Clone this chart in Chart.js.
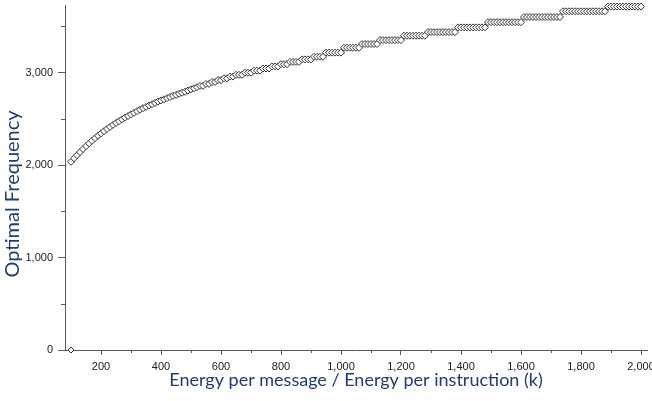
<!DOCTYPE html>
<html>
<head>
<meta charset="utf-8">
<title>Optimal Frequency</title>
<script src="https://cdn.jsdelivr.net/npm/chart.js@4.4.1/dist/chart.umd.min.js"></script>
<style>
  html, body { margin: 0; padding: 0; background: #fff; }
  canvas { display: block; }
</style>
</head>
<body>
<canvas id="chart" width="652" height="401"></canvas>
<script>
// energy ratio k (message / instruction)
const ratioK = [
  100, 110, 120, 130, 140, 150, 160, 170, 180, 190,
  200, 210, 220, 230, 240, 250, 260, 270, 280, 290,
  300, 310, 320, 330, 340, 350, 360, 370, 380, 390,
  400, 410, 420, 430, 440, 450, 460, 470, 480, 490,
  500, 510, 520, 530, 540, 550, 560, 570, 580, 590,
  600, 610, 620, 630, 640, 650, 660, 670, 680, 690,
  700, 710, 720, 730, 740, 750, 760, 770, 780, 790,
  800, 810, 820, 830, 840, 850, 860, 870, 880, 890,
  900, 910, 920, 930, 940, 950, 960, 970, 980, 990,
  1000, 1010, 1020, 1030, 1040, 1050, 1060, 1070, 1080, 1090,
  1100, 1110, 1120, 1130, 1140, 1150, 1160, 1170, 1180, 1190,
  1200, 1210, 1220, 1230, 1240, 1250, 1260, 1270, 1280, 1290,
  1300, 1310, 1320, 1330, 1340, 1350, 1360, 1370, 1380, 1390,
  1400, 1410, 1420, 1430, 1440, 1450, 1460, 1470, 1480, 1490,
  1500, 1510, 1520, 1530, 1540, 1550, 1560, 1570, 1580, 1590,
  1600, 1610, 1620, 1630, 1640, 1650, 1660, 1670, 1680, 1690,
  1700, 1710, 1720, 1730, 1740, 1750, 1760, 1770, 1780, 1790,
  1800, 1810, 1820, 1830, 1840, 1850, 1860, 1870, 1880, 1890,
  1900, 1910, 1920, 1930, 1940, 1950, 1960, 1970, 1980, 1990,
  2000
];

// optimal frequency for each k
const optimalFreq = [
  2035, 2072, 2106, 2140, 2172, 2204, 2234, 2262, 2290, 2316,
  2342, 2366, 2390, 2412, 2434, 2455, 2474, 2494, 2512, 2530,
  2548, 2565, 2582, 2598, 2614, 2628, 2643, 2657, 2671, 2685,
  2698, 2710, 2723, 2735, 2747, 2759, 2770, 2781, 2792, 2805,
  2818, 2830, 2842, 2856, 2856, 2877, 2877, 2898, 2898, 2918,
  2918, 2937, 2937, 2956, 2956, 2975, 2975, 2975, 2998, 2998,
  2998, 3020, 3020, 3020, 3043, 3043, 3043, 3066, 3066, 3066,
  3090, 3090, 3090, 3115, 3115, 3115, 3115, 3142, 3142, 3142,
  3142, 3170, 3170, 3170, 3170, 3215, 3215, 3215, 3215, 3215,
  3215, 3268, 3268, 3268, 3268, 3268, 3268, 3308, 3308, 3308,
  3308, 3308, 3308, 3350, 3350, 3350, 3350, 3350, 3350, 3350,
  3350, 3398, 3398, 3398, 3398, 3398, 3398, 3398, 3398, 3437,
  3437, 3437, 3437, 3437, 3437, 3437, 3437, 3437, 3437, 3488,
  3488, 3488, 3488, 3488, 3488, 3488, 3488, 3488, 3488, 3544,
  3544, 3544, 3544, 3544, 3544, 3544, 3544, 3544, 3544, 3544,
  3544, 3600, 3600, 3600, 3600, 3600, 3600, 3600, 3600, 3600,
  3600, 3600, 3600, 3600, 3662, 3662, 3662, 3662, 3662, 3662,
  3662, 3662, 3662, 3662, 3662, 3662, 3662, 3662, 3662, 3713,
  3713, 3713, 3713, 3713, 3713, 3713, 3713, 3713, 3713, 3713,
  3713
];

// lone point sitting on the axis at the start
const zeroPointK = [100];
const zeroPointFreq = [0];

const xMajorTicks = [200, 400, 600, 800, 1000, 1200, 1400, 1600, 1800, 2000];
const xMinorTicks = [300, 500, 700, 900, 1100, 1300, 1500, 1700, 1900];
const yMajorTicks = [0, 1000, 2000, 3000];
const yMinorTicks = [500, 1500, 2500, 3500];

const AXIS_COLOR = '#595959';
const LABEL_COLOR = '#222';
const TITLE_COLOR = '#1f3d73';
const LABEL_FONT = { family: "'Liberation Sans Narrow', 'Liberation Sans', Arial, sans-serif", size: 11 };
const TITLE_FAMILY = "Lato, 'Open Sans', sans-serif";

const toPoints = (xs, ys) => xs.map((x, i) => ({ x, y: ys[i] }));
const fmt = v => Number(v).toLocaleString('en-US');

// short minor tick marks between the labelled ones
const minorTicks = {
  id: 'minorTicks',
  afterDraw(chart) {
    const { ctx, scales: { x, y } } = chart;
    ctx.save();
    ctx.strokeStyle = AXIS_COLOR;
    ctx.lineWidth = 1;
    ctx.beginPath();
    xMinorTicks.forEach(v => {
      const px = Math.round(x.getPixelForValue(v)) + 0.5;
      ctx.moveTo(px, x.top);
      ctx.lineTo(px, x.top + 3);
    });
    yMinorTicks.forEach(v => {
      const py = Math.round(y.getPixelForValue(v)) + 0.5;
      ctx.moveTo(y.right - 4, py);
      ctx.lineTo(y.right, py);
    });
    ctx.stroke();
    ctx.restore();
  }
};

// vertical axis title, sits a bit below the axis centre
const yTitle = {
  id: 'yTitle',
  afterDraw(chart) {
    const { ctx } = chart;
    ctx.save();
    ctx.translate(13, 194);
    ctx.rotate(-Math.PI / 2);
    ctx.font = `20px ${TITLE_FAMILY}`;
    ctx.fillStyle = TITLE_COLOR;
    ctx.textAlign = 'center';
    ctx.textBaseline = 'middle';
    ctx.fillText('Optimal Frequency', 0, 0);
    ctx.restore();
  }
};

const pointStyle = {
  pointStyle: 'rectRot',
  pointRadius: 3.5,
  pointBorderWidth: 1,
  pointBorderColor: '#333333',
  pointBackgroundColor: '#ffffff',
  showLine: false,
  clip: false
};

new Chart(document.getElementById('chart'), {
  type: 'scatter',
  data: {
    datasets: [
      { label: 'Optimal Frequency', data: toPoints(ratioK, optimalFreq), ...pointStyle },
      { label: 'start', data: toPoints(zeroPointK, zeroPointFreq), ...pointStyle, pointRadius: 3 }
    ]
  },
  options: {
    responsive: false,
    animation: false,
    layout: { padding: { top: 3, right: 5, left: 0, bottom: 0 } },
    plugins: { legend: { display: false }, tooltip: { enabled: false } },
    scales: {
      x: {
        type: 'linear',
        min: 80,
        max: 2020,
        afterBuildTicks: s => { s.ticks = xMajorTicks.map(value => ({ value })); },
        afterFit: s => { s.height = 51; s.paddingLeft = 0; s.paddingRight = 0; },
        grid: { drawOnChartArea: false, tickLength: 5, color: AXIS_COLOR },
        border: { color: AXIS_COLOR },
        ticks: { padding: 5, color: LABEL_COLOR, font: LABEL_FONT, maxRotation: 0, autoSkip: false, callback: fmt },
        title: {
          display: true,
          text: 'Energy per message / Energy per instruction (k)',
          color: TITLE_COLOR,
          font: { family: TITLE_FAMILY, size: 18 },
          padding: { top: 0, bottom: 10 }
        }
      },
      y: {
        type: 'linear',
        min: 0,
        max: 3730,
        afterBuildTicks: s => { s.ticks = yMajorTicks.map(value => ({ value })); },
        afterFit: s => { s.width = 65; s.paddingTop = 0; s.paddingBottom = 0; },
        grid: { drawOnChartArea: false, tickLength: 7, color: AXIS_COLOR },
        border: { color: AXIS_COLOR },
        ticks: { padding: 5, color: LABEL_COLOR, font: LABEL_FONT, callback: fmt }
      }
    }
  },
  plugins: [minorTicks, yTitle]
});
</script>
</body>
</html>
